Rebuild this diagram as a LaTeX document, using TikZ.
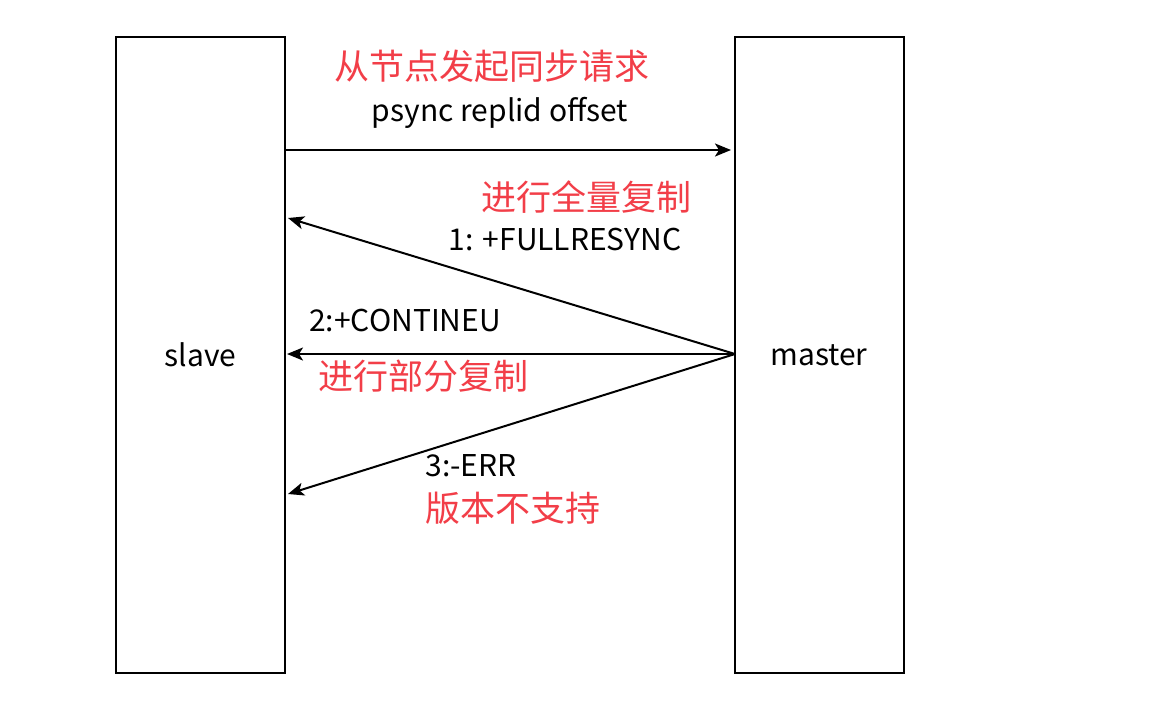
\documentclass[tikz,border=0pt]{standalone}
\usepackage{fontspec}
\setmainfont{Noto Sans CJK SC}
\usetikzlibrary{arrows.meta}
\definecolor{hl}{RGB}{242,62,72}
\begin{document}
\begin{tikzpicture}[x=1pt,y=-1pt,
  box/.style={draw=black,line width=2pt,minimum width=169pt,minimum height=636pt,inner sep=0pt,font=\fontsize{30}{34}\selectfont},
  conn/.style={draw=black,line width=2pt,-{Stealth[length=16pt,width=13pt,inset=4pt]}},
  lbl/.style={font=\fontsize{30}{34}\selectfont,inner sep=0pt,text=black},
  red/.style={font=\fontsize{35}{40}\selectfont,inner sep=0pt,text=hl}]
\useasboundingbox (0,0) rectangle (1150,724);
\node[box] (slave) at (200.5,355) {slave};
\node[box] (master) at (819,355) {master};
\coordinate (s0) at (285,150);
\coordinate (e0) at (731,150);
\coordinate (e1) at (288,218);
\coordinate (e2) at (287,354);
\coordinate (e3) at (288,494);
\coordinate (m) at (735,354);
\draw[conn] (s0) -- (e0);
\draw[conn] (m) -- (e1);
\draw[conn] (m) -- (e2);
\draw[conn] (m) -- (e3);
\node[red] (t1) at (492,66) {从节点发起同步请求};
\node[lbl] (t2) at (500,113) {psync replid offset};
\node[red] (t3) at (586,197) {进行全量复制};
\node[lbl] (t4) at (565,239) {1: +FULLRESYNC};
\node[lbl] (t5) at (405,320) {2:+CONTINEU};
\node[red] (t6) at (423,376) {进行部分复制};
\node[lbl] (t7) at (471,466) {3:-ERR};
\node[red] (t8) at (513,508) {版本不支持};
\end{tikzpicture}
\end{document}
